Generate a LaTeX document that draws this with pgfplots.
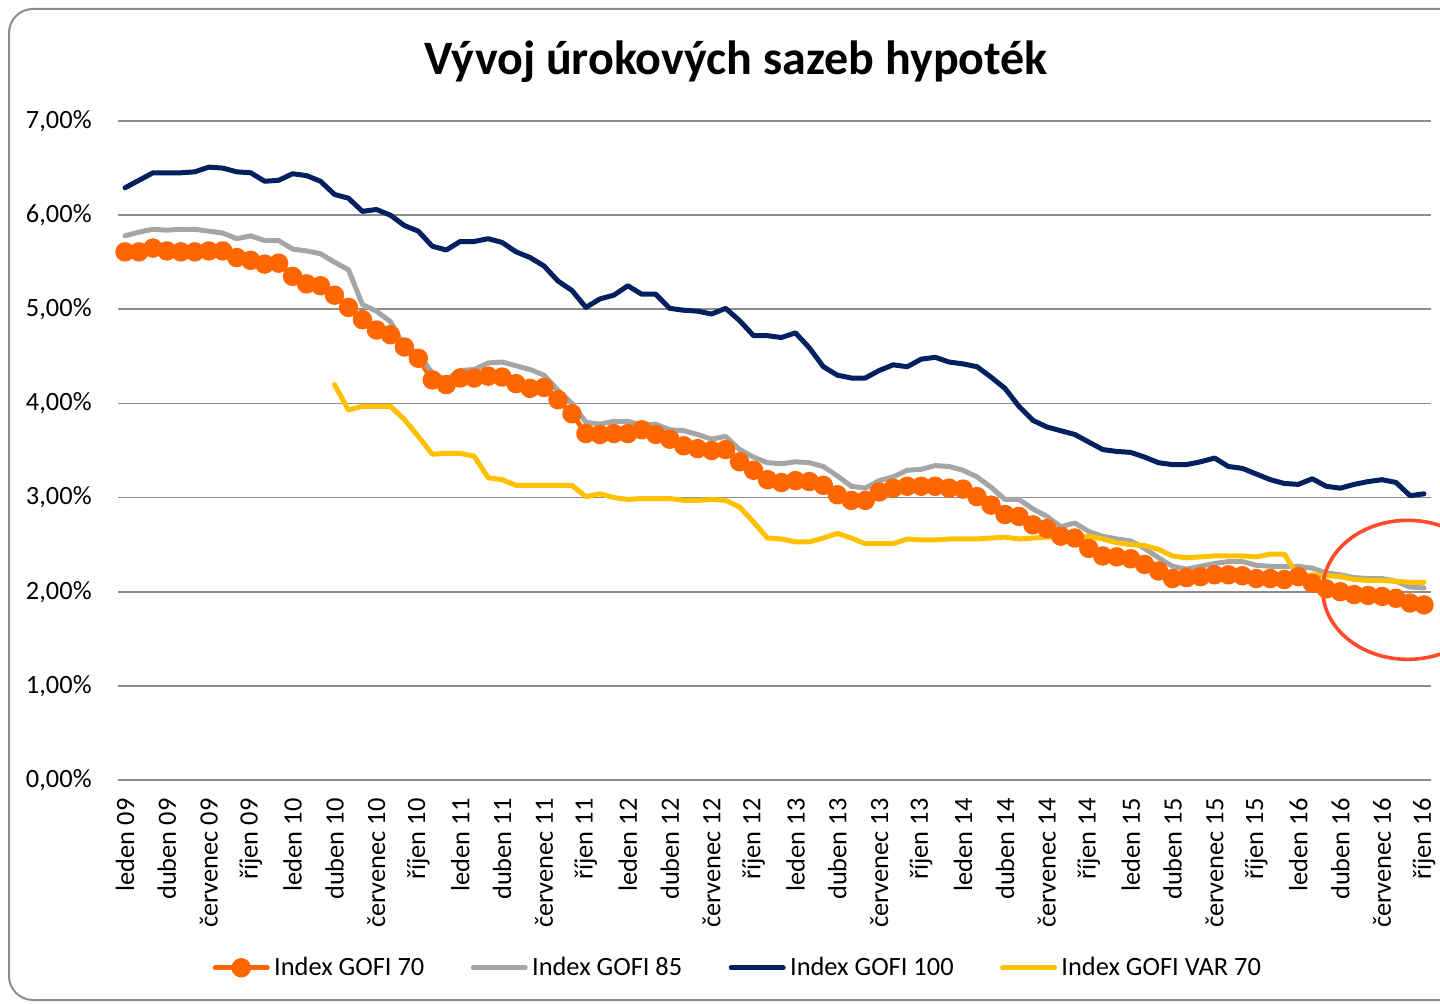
\documentclass[border=0pt]{standalone}
\usepackage{fontspec}
\setmainfont{Carlito}
\usepackage{pgfplots}
\usepackage{pgfplotstable}
\pgfplotsset{compat=1.18}

\definecolor{gofiA}{HTML}{FF6600}
\definecolor{gofiB}{HTML}{A5A5A5}
\definecolor{gofiC}{HTML}{002060}
\definecolor{gofiD}{HTML}{FFC000}
\definecolor{gridc}{HTML}{8C8C8C}
\definecolor{framec}{HTML}{8C8C8C}
\definecolor{circc}{HTML}{FF4B2B}

% month index (0 = leden 09), GOFI 70, GOFI 85, GOFI 100, GOFI VAR 70
\pgfplotstableread{
i  g70  g85  g100 var
0  5.61 5.78 6.29 nan
1  5.61 5.82 6.37 nan
2  5.65 5.85 6.45 nan
3  5.62 5.84 6.45 nan
4  5.61 5.85 6.45 nan
5  5.61 5.85 6.46 nan
6  5.62 5.83 6.51 nan
7  5.62 5.81 6.50 nan
8  5.55 5.75 6.46 nan
9  5.52 5.78 6.45 nan
10 5.48 5.73 6.36 nan
11 5.49 5.73 6.37 nan
12 5.35 5.64 6.44 nan
13 5.27 5.62 6.42 nan
14 5.25 5.59 6.36 nan
15 5.15 5.50 6.22 4.20
16 5.02 5.42 6.18 3.93
17 4.89 5.05 6.04 3.97
18 4.78 4.98 6.06 3.97
19 4.73 4.87 6.00 3.97
20 4.60 4.61 5.89 3.83
21 4.48 4.53 5.83 3.65
22 4.25 4.32 5.67 3.46
23 4.20 4.25 5.63 3.47
24 4.27 4.35 5.72 3.47
25 4.27 4.36 5.72 3.44
26 4.29 4.43 5.75 3.21
27 4.28 4.44 5.71 3.19
28 4.21 4.40 5.61 3.13
29 4.16 4.36 5.55 3.13
30 4.17 4.30 5.46 3.13
31 4.04 4.14 5.30 3.13
32 3.89 4.00 5.20 3.13
33 3.68 3.80 5.02 3.01
34 3.67 3.78 5.11 3.04
35 3.68 3.81 5.15 3.00
36 3.68 3.81 5.25 2.98
37 3.72 3.77 5.16 2.99
38 3.67 3.78 5.16 2.99
39 3.62 3.72 5.01 2.99
40 3.55 3.71 4.99 2.97
41 3.52 3.67 4.98 2.97
42 3.50 3.62 4.95 2.98
43 3.51 3.65 5.01 2.97
44 3.38 3.51 4.88 2.90
45 3.29 3.43 4.72 2.74
46 3.19 3.37 4.72 2.57
47 3.16 3.36 4.70 2.56
48 3.18 3.38 4.75 2.53
49 3.17 3.37 4.59 2.53
50 3.13 3.33 4.39 2.57
51 3.03 3.23 4.30 2.62
52 2.97 3.12 4.27 2.57
53 2.97 3.10 4.27 2.51
54 3.06 3.18 4.35 2.51
55 3.10 3.22 4.41 2.51
56 3.12 3.29 4.39 2.56
57 3.12 3.30 4.47 2.55
58 3.12 3.34 4.49 2.55
59 3.10 3.33 4.44 2.56
60 3.09 3.29 4.42 2.56
61 3.01 3.22 4.39 2.56
62 2.92 3.11 4.28 2.57
63 2.82 2.98 4.16 2.58
64 2.80 2.98 3.97 2.56
65 2.71 2.88 3.82 2.57
66 2.67 2.80 3.75 2.58
67 2.59 2.69 3.71 2.58
68 2.57 2.73 3.67 2.57
69 2.46 2.64 3.59 2.59
70 2.38 2.59 3.51 2.56
71 2.37 2.56 3.49 2.52
72 2.35 2.54 3.48 2.50
73 2.29 2.46 3.43 2.49
74 2.22 2.36 3.37 2.45
75 2.14 2.27 3.35 2.38
76 2.15 2.24 3.35 2.36
77 2.16 2.27 3.38 2.37
78 2.18 2.30 3.42 2.38
79 2.18 2.32 3.33 2.38
80 2.17 2.32 3.31 2.38
81 2.14 2.28 3.25 2.37
82 2.14 2.27 3.19 2.40
83 2.13 2.27 3.15 2.40
84 2.16 2.27 3.14 2.16
85 2.09 2.25 3.20 2.18
86 2.03 2.20 3.12 2.17
87 2.00 2.18 3.10 2.16
88 1.97 2.15 3.14 2.13
89 1.96 2.14 3.17 2.12
90 1.95 2.14 3.19 2.12
91 1.93 2.11 3.16 2.11
92 1.88 2.05 3.02 2.10
93 1.86 2.04 3.04 2.10
}\rates

\begin{document}
\begin{tikzpicture}
\useasboundingbox (0,0) rectangle (720pt,-502pt);
\draw[color=framec, line width=1pt, rounded corners=12pt] (4.5pt,-4.5pt) rectangle (760pt,-500pt);
\node[anchor=base, inner sep=0pt, font=\fontsize{24}{29}\selectfont\bfseries] at (368pt,-37.5pt) {Vývoj úrokových sazeb hypoték};

\begin{axis}[
    at={(59pt,-390pt)}, anchor=south west,
    scale only axis, width=656.5pt, height=329.5pt,
    xmin=-0.5, xmax=93.5, ymin=0, ymax=7,
    clip=false,
    unbounded coords=jump,
    axis line style={draw=none},
    major tick length=0pt,
    ymajorgrids, grid style={color=gridc, line width=0.9pt},
    ytick={0,1,2,3,4,5,6,7},
    yticklabels={{0,00\%},{1,00\%},{2,00\%},{3,00\%},{4,00\%},{5,00\%},{6,00\%},{7,00\%}},
    yticklabel style={anchor=east, inner sep=0pt, xshift=-13pt},
    xtick={0,3,...,93},
    xticklabels={leden 09,duben 09,červenec 09,říjen 09,
                 leden 10,duben 10,červenec 10,říjen 10,
                 leden 11,duben 11,červenec 11,říjen 11,
                 leden 12,duben 12,červenec 12,říjen 12,
                 leden 13,duben 13,červenec 13,říjen 13,
                 leden 14,duben 14,červenec 14,říjen 14,
                 leden 15,duben 15,červenec 15,říjen 15,
                 leden 16,duben 16,červenec 16,říjen 16},
    xticklabel style={rotate=90, anchor=east, inner sep=0pt},
    xticklabel shift=9pt,
    tick label style={font=\fontsize{13.2}{16}\selectfont},
    legend style={at={(axis description cs:0.473,-0.285)}, anchor=center,
        draw=none, fill=none, font=\fontsize{13.2}{16}\selectfont,
        /tikz/every even column/.append style={column sep=21pt},
        nodes={inner sep=2.2pt}},
    legend columns=4,
    legend cell align=left,
    legend image code/.code={\draw[mark repeat=2,mark phase=2,#1] plot coordinates {(0pt,0pt) (13pt,0pt) (26pt,0pt)};},
    every axis plot/.append style={line width=2.5pt, line cap=round, line join=round},
]

\addplot[color=gofiA, mark=*, mark size=3.6pt, mark options={draw=none, fill=gofiA}] table[x=i, y=g70] {\rates};
\addplot[color=gofiB] table[x=i, y=g85] {\rates};
\addplot[color=gofiC] table[x=i, y=g100] {\rates};
\addplot[color=gofiD] table[x=i, y=var] {\rates};

\legend{Index GOFI 70, Index GOFI 85, Index GOFI 100, Index GOFI VAR 70}

\draw[color=circc, line width=1.8pt] (axis cs:91.84,2.02) ellipse [x radius=42.5pt, y radius=34.75pt];
\end{axis}
\end{tikzpicture}
\end{document}
